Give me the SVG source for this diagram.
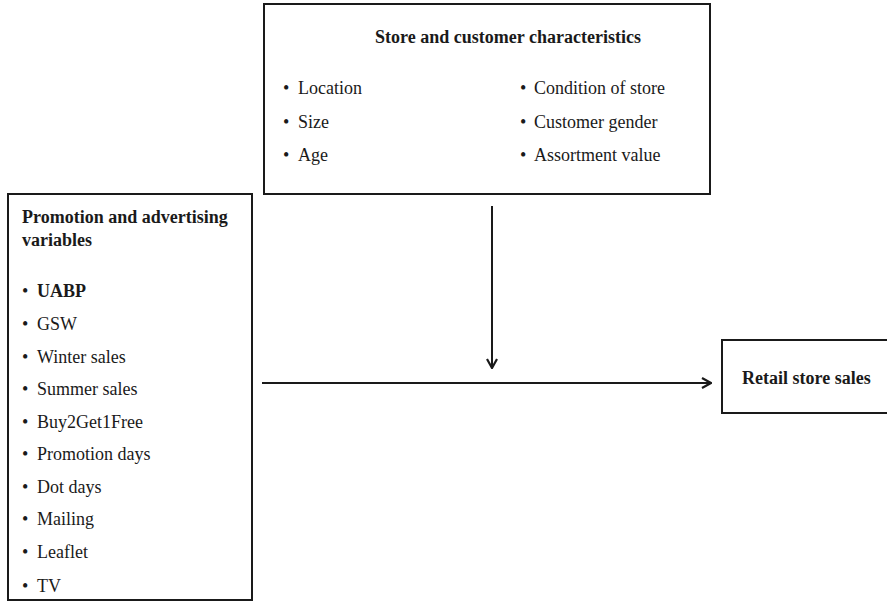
<svg xmlns="http://www.w3.org/2000/svg" width="887" height="603" viewBox="0 0 887 603">
<style>
.box{fill:#fff;stroke:#1a1a1a;stroke-width:2}
.t{font-family:"Liberation Serif","Times New Roman",serif;font-size:18px;fill:#1a1a1a}
.b{font-weight:bold}
.edge{stroke:#1a1a1a;stroke-width:2;fill:none}
</style>
<defs>
<marker id="arr" viewBox="0 0 12 12" refX="11" refY="6" markerWidth="12" markerHeight="12" markerUnits="userSpaceOnUse" orient="auto">
<polyline points="2,1 11,6 2,11" fill="none" stroke="#1a1a1a" stroke-width="2.2"/>
</marker>
</defs>
<rect width="887" height="603" fill="#fff"/>
<g id="store-characteristics">
<rect class="box" x="264" y="4" width="446" height="190"/>
<text class="t b" x="508" y="43" text-anchor="middle">Store and customer characteristics</text>
<text class="t" x="283" y="94">•</text><text class="t" x="298" y="94">Location</text>
<text class="t" x="283" y="128">•</text><text class="t" x="298" y="128">Size</text>
<text class="t" x="283" y="161">•</text><text class="t" x="298" y="161">Age</text>
<text class="t" x="520" y="94">•</text><text class="t" x="534" y="94">Condition of store</text>
<text class="t" x="520" y="128">•</text><text class="t" x="534" y="128">Customer gender</text>
<text class="t" x="520" y="161">•</text><text class="t" x="534" y="161">Assortment value</text>
</g>
<g id="promotion-variables">
<rect class="box" x="8" y="194" width="244" height="406"/>
<text class="t b" x="22" y="223">Promotion and advertising</text>
<text class="t b" x="22" y="246">variables</text>
<text class="t" x="22" y="297">•</text><text class="t b" x="37" y="297">UABP</text>
<text class="t" x="22" y="330">•</text><text class="t" x="37" y="330">GSW</text>
<text class="t" x="22" y="363">•</text><text class="t" x="37" y="363">Winter sales</text>
<text class="t" x="22" y="395">•</text><text class="t" x="37" y="395">Summer sales</text>
<text class="t" x="22" y="428">•</text><text class="t" x="37" y="428">Buy2Get1Free</text>
<text class="t" x="22" y="460">•</text><text class="t" x="37" y="460">Promotion days</text>
<text class="t" x="22" y="493">•</text><text class="t" x="37" y="493">Dot days</text>
<text class="t" x="22" y="525">•</text><text class="t" x="37" y="525">Mailing</text>
<text class="t" x="22" y="558">•</text><text class="t" x="37" y="558">Leaflet</text>
<text class="t" x="22" y="592">•</text><text class="t" x="37" y="592">TV</text>
</g>
<g id="retail-sales">
<rect class="box" x="722" y="340" width="170" height="73"/>
<text class="t b" x="742" y="384">Retail store sales</text>
</g>
<g id="connectors">
<line class="edge" x1="492" y1="206" x2="492" y2="368" marker-end="url(#arr)"/>
<line class="edge" x1="262" y1="383" x2="711" y2="383" marker-end="url(#arr)"/>
</g>
</svg>
